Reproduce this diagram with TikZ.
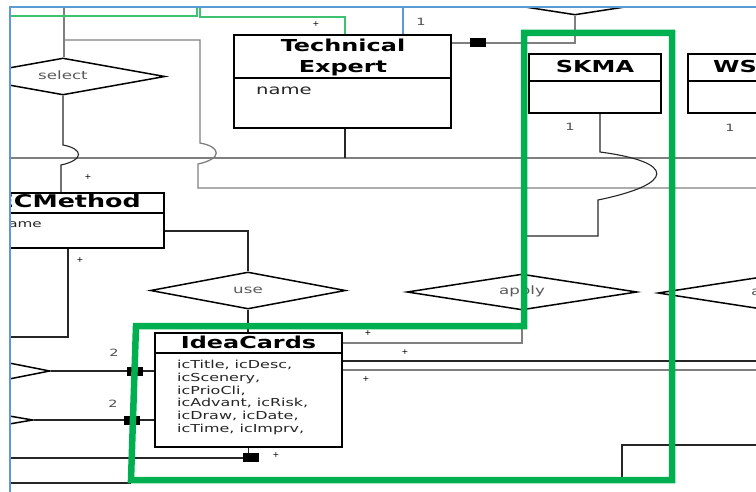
\documentclass[tikz,border=0pt]{standalone}
\usepackage{fontspec}
\setmainfont{DejaVu Sans}
\usepackage{graphicx}
\usepackage{tikz}
\usetikzlibrary{shapes.geometric, positioning, calc}
\definecolor{framegreen}{HTML}{00B050}
\definecolor{linkgreen}{HTML}{3DC36F}
\definecolor{borderblue}{HTML}{5B9BD5}
\definecolor{linegray}{HTML}{7F7F7F}
\definecolor{labelgray}{HTML}{595959}
\newcommand{\widetext}[2][c]{\scalebox{1.45}[1]{\begin{tabular}{@{}#1@{}}#2\end{tabular}}}

\begin{document}
\begin{tikzpicture}[
    x=1pt, y=-1pt,
    entity/.style={rectangle, draw=black, fill=white, line width=2.2pt, inner sep=0pt},
    enttitle/.style={font=\bfseries\fontsize{16.5}{21}\selectfont, inner sep=0pt},
    attrtext/.style={font=\fontsize{#1}{12.8}\selectfont, inner sep=0pt, text=black!85},
    attrtext/.default=11,
    relation/.style={diamond, draw=black, fill=white, line width=1.5pt, inner sep=0pt,
                     shape aspect=6, font=\fontsize{11.5}{14}\selectfont, text=labelgray},
    conn/.style={draw=black!85, line width=1.1pt},
    grayconn/.style={draw=linegray, line width=1.3pt},
    mult/.style={font=\fontsize{10}{11}\selectfont, inner sep=0pt, text=black!70},
    plusmark/.style={font=\fontsize{8}{9}\selectfont, inner sep=0pt},
    aggsq/.style={rectangle, fill=black, minimum width=16pt, minimum height=9pt, inner sep=0pt}
]
\useasboundingbox (0,0) rectangle (756,492);
\begin{scope}
\clip (10,7) rectangle (756,492);

% Entities
\node[entity, minimum width=217pt, minimum height=93pt] at (342.5,81.5) (techexp) {};
\node[entity, minimum width=132pt, minimum height=59pt] at (595,83.5) (skma) {};
\node[entity, minimum width=132pt, minimum height=59pt] at (754,83.5) (ws) {};
\node[entity, minimum width=224pt, minimum height=55pt] at (52,220.5) (ecmethod) {};
\node[entity, minimum width=187pt, minimum height=114pt] at (248.5,390) (ideacards) {};
\foreach \ent/\off in {techexp/44, skma/28, ws/28, ecmethod/21, ideacards/21}
    \draw[line width=1.6pt] ([yshift=-\off]\ent.north west) -- ([yshift=-\off]\ent.north east);

\node[enttitle] at (343,58) (techexp-title) {\widetext{Technical\\Expert}};
\node[attrtext=13.5, anchor=west] at (256,92) (techexp-name) {\widetext{name}};
\node[enttitle] at (595,68) (skma-title) {\widetext{SKMA}};
\node[enttitle, anchor=west] at (713,68) (ws-title) {\widetext{WS}};
\node[enttitle, font=\bfseries\fontsize{17.5}{21}\selectfont, anchor=east] at (141,203)
    (ecmethod-title) {\widetext{ECMethod}};
\node[attrtext=10.5, anchor=east] at (42,225) (ecmethod-name) {\widetext{name}};
\node[enttitle] at (248.5,344) (ideacards-title) {\widetext{IdeaCards}};
\node[attrtext, anchor=west] at (177,398) (ideacards-attr)
    {\widetext[l]{icTitle, icDesc,\\icScenery,\\icPrioCli,\\icAdvant, icRisk,\\icDraw, icDate,\\icTime, icImprv,}};

% Relationships
\node[relation, minimum width=204pt, minimum height=37pt] at (63,76.5) (select) {\widetext{select}};
\node[relation, minimum width=195pt, minimum height=37pt] at (248,290.5) (use) {\widetext{use}};
\node[relation, minimum width=230pt, minimum height=36pt] at (522,292) (apply) {\widetext{apply}};
\node[relation, minimum width=230pt, minimum height=36pt] at (773,293) (rightrel) {};
\node[font=\fontsize{11.5}{14}\selectfont, text=labelgray, inner sep=0pt, anchor=west]
    at (751,293) (rightrel-label) {\widetext{a}};
\node[relation, minimum width=230pt, minimum height=36pt] at (575,-3) (toprel) {};
\node[relation, minimum width=150pt, minimum height=30pt] at (-25,371) (leftrel1) {};
\node[relation, minimum width=150pt, minimum height=26pt] at (-42,420) (leftrel2) {};

% Free ends at the cut edges
\coordinate (selup) at (64,0);
\coordinate (bend-top) at (64,40);
\coordinate (mid-left) at (0,158);
\coordinate (mid-right) at (760,158);
\coordinate (low-right) at (760,188);
\coordinate (green-left) at (0,16);
\coordinate (green-up) at (197,0);
\coordinate (green-up2) at (200,0);
\coordinate (blue-up) at (403,0);
\coordinate (ecm-left) at (0,337);
\coordinate (cards-right1) at (760,361);
\coordinate (cards-right2) at (760,370);
\coordinate (cards-left) at (0,458);
\coordinate (base-left) at (0,483);
\coordinate (base-mid) at (131,483);
\coordinate (corner-low) at (622,480);
\coordinate (corner-right) at (760,445);

% Connectors
\draw[grayconn, line width=2.2pt] (selup) -- (select.north -| selup);
\draw[grayconn] (bend-top) -- (200,40) -- (200,143)
    .. controls (222,147) and (222,159) .. (198,164) -- (198,188) -- (low-right);
\draw[grayconn] (mid-left) -- (mid-right);
\draw[conn] (select.south) -- (63,145)
    .. controls (84,149) and (84,160) .. (61,165) -- (61,0 |- ecmethod.north);
\draw[conn] (345,0 |- techexp.south) -- (345,158);
\draw[conn] (ecmethod.east |- 0,231) -- (use.north |- 0,231) -- (use.north);
\draw[conn] (68,0 |- ecmethod.south) -- (68,337) -- (ecm-left);
\draw[conn] (use.south) -- (ideacards.north -| use.south);

\draw[linkgreen, line width=1.3pt] (green-left) -- (197,16) -- (green-up);
\draw[linkgreen, line width=1.3pt] (345,0 |- techexp.north) -- (345,17) -- (200,17) -- (green-up2);
\draw[borderblue, line width=2pt] (403,0 |- techexp.north) -- (blue-up);

\draw[grayconn] (techexp.east |- 0,43) -- (toprel.south |- 0,43) -- (toprel.south);
\node[aggsq] at (478,43) (agg-top) {};

\draw[conn] (600,0 |- skma.south) -- (600,152)
    .. controls (676,162) and (676,184) .. (598,200) -- (598,236)
    -- (apply.north |- 0,236) -- (apply.north);

\draw[grayconn] (ideacards.east |- 0,343) -- (apply.south |- 0,343) -- (apply.south);
\draw[conn] (ideacards.east |- 0,361) -- (cards-right1);
\draw[grayconn] (ideacards.east |- 0,370) -- (cards-right2);
\draw[conn] (leftrel1.east) -- (ideacards.west |- leftrel1.east);
\draw[conn] (leftrel2.east) -- (ideacards.west |- leftrel2.east);
\node[aggsq] at (135,371) (agg-l1) {};
\node[aggsq] at (132,420) (agg-l2) {};
\draw[conn] (ideacards.south) -- (ideacards.south |- 0,458) -- (cards-left);
\node[aggsq] at (251,457) (agg-bot) {};
\draw[conn] (base-left) -- (base-mid);
\draw[conn] (corner-low) -- (622,445) -- (corner-right);

% Multiplicities
\node[plusmark] at (316,24) (p1) {+};
\node[mult] at (421,23) (m1) {\widetext{1}};
\node[mult] at (570,128) (m2) {\widetext{1}};
\node[mult] at (730,129) (m3) {\widetext{1}};
\node[plusmark] at (88,177) (p2) {+};
\node[plusmark] at (80,260) (p3) {+};
\node[mult] at (114,354) (m4) {\widetext{2}};
\node[mult] at (113,405) (m5) {\widetext{2}};
\node[plusmark] at (368,333) (p4) {+};
\node[plusmark] at (405,352) (p5) {+};
\node[plusmark] at (366,379) (p6) {+};
\node[plusmark] at (276,455) (p7) {+};

% Highlight frame
\draw[framegreen, line width=6.5pt] (136,326) -- (524,326) -- (524,33) -- (672,33)
    -- (672,480) -- (131,480) -- cycle;
\end{scope}

% Window border
\draw[borderblue, line width=2pt] (10,492) -- (10,7) -- (756,7);
\end{tikzpicture}
\end{document}
